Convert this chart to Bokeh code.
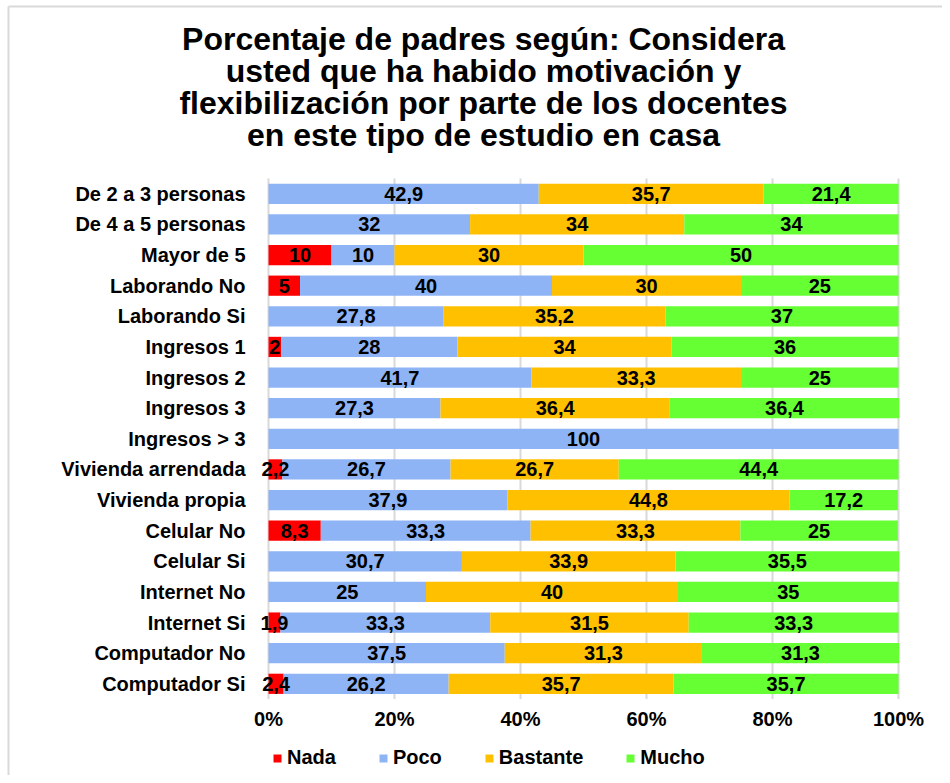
from bokeh.plotting import figure
from bokeh.models import ColumnDataSource, Legend, LegendItem, Range1d
from bokeh.core.properties import value
from bokeh.embed import file_html
from bokeh.resources import INLINE

categories = ["De 2 a 3 personas", "De 4 a 5 personas", "Mayor de 5", "Laborando No",
              "Laborando Si", "Ingresos 1", "Ingresos 2", "Ingresos 3", "Ingresos > 3",
              "Vivienda arrendada", "Vivienda propia", "Celular No", "Celular Si",
              "Internet No", "Internet Si", "Computador No", "Computador Si"]
nada     = [0, 0, 10, 5, 0, 2, 0, 0, 0, 2.2, 0, 8.3, 0, 0, 1.9, 0, 2.4]
poco     = [42.9, 32, 10, 40, 27.8, 28, 41.7, 27.3, 100, 26.7, 37.9, 33.3, 30.7, 25, 33.3, 37.5, 26.2]
bastante = [35.7, 34, 30, 30, 35.2, 34, 33.3, 36.4, 0, 26.7, 44.8, 33.3, 33.9, 40, 31.5, 31.3, 35.7]
mucho    = [21.4, 34, 50, 25, 37, 36, 25, 36.4, 0, 44.4, 17.2, 25, 35.5, 35, 33.3, 31.3, 35.7]
series_names = ["Nada", "Poco", "Bastante", "Mucho"]
colors = ["#FF0000", "#8EB4F5", "#FFC000", "#66FF33"]
x_ticks = [0, 20, 40, 60, 80, 100]
x_tick_labels = ["0%", "20%", "40%", "60%", "80%", "100%"]

title_lines = ["Porcentaje de padres según: Considera",
               "usted que ha habido motivación y",
               "flexibilización por parte de los docentes",
               "en este tipo de estudio en casa"]

FONT = "Liberation Sans"
N = len(categories)
W, H = 942, 775
PX_PER_PCT = 6.3          # horizontal scale of the 0-100 % axis
ROW_PX = 30.625           # vertical pitch of one category row
X0_PX, ROW0_PX = 268, 193.3

# ranges: the frame covers the whole figure so that title, axis labels and legend can
# be drawn as text glyphs through the same scales
x_range = Range1d(-X0_PX / PX_PER_PCT, (W - X0_PX) / PX_PER_PCT)
y_range = Range1d((H - ROW0_PX) / ROW_PX, -ROW0_PX / ROW_PX)

p = figure(width=W, height=H, output_backend="svg", toolbar_location=None,
           x_range=x_range, y_range=y_range, x_axis_location=None, y_axis_location=None,
           min_border_left=0, min_border_right=0, min_border_top=0, min_border_bottom=0)
p.grid.visible = False
p.outline_line_color = None

rows = list(range(N))
src = ColumnDataSource(dict(row=rows, Nada=nada, Poco=poco, Bastante=bastante, Mucho=mucho))

# chart border (left and top edges visible)
p.segment(x0=[-260 / PX_PER_PCT, -260 / PX_PER_PCT], y0=[-187.3 / ROW_PX, -187.3 / ROW_PX],
          x1=[-260 / PX_PER_PCT, (W - X0_PX) / PX_PER_PCT], y1=[(H - ROW0_PX) / ROW_PX, -187.3 / ROW_PX],
          line_color="#D9D9D9", line_width=2)

# vertical grid lines over the plot area only
p.segment(x0=x_ticks, y0=[-0.5] * len(x_ticks), x1=x_ticks, y1=[N - 0.5] * len(x_ticks),
          line_color="#D9D9D9", line_width=2)

renderers = p.hbar_stack(series_names, y="row", height=0.66, color=colors, source=src,
                         line_color=None)

# data labels centred in each segment
lab_x, lab_y, lab_t = [], [], []
for i in rows:
    left = 0
    for s in (nada, poco, bastante, mucho):
        v = s[i]
        if v > 0:
            lab_x.append(left + v / 2)
            lab_y.append(i)
            lab_t.append(("%g" % v).replace(".", ","))
        left += v
p.text(x=lab_x, y=lab_y, text=lab_t, text_align="center", text_baseline="middle",
       text_font=value(FONT), text_font_size=value("20px"), text_font_style="bold",
       text_color="black")

# category (y axis) labels
p.text(x=[-23 / PX_PER_PCT] * N, y=rows, text=categories, text_align="right",
       text_baseline="middle", text_font=value(FONT), text_font_size=value("20px"),
       text_font_style="bold", text_color="black")

# x tick labels
p.text(x=x_ticks, y=[(718 - ROW0_PX) / ROW_PX] * len(x_ticks), text=x_tick_labels,
       text_align="center", text_baseline="middle", text_font=value(FONT),
       text_font_size=value("20px"), text_font_style="bold", text_color="black")

# title, 4 centred lines
title_y = [(38 + 32 * k - ROW0_PX) / ROW_PX for k in range(len(title_lines))]
p.text(x=[(483 - X0_PX) / PX_PER_PCT] * len(title_lines), y=title_y, text=title_lines,
       text_align="center", text_baseline="middle", text_font=value(FONT),
       text_font_size=value("32px"), text_font_style="bold", text_color="black")

legend = Legend(items=[LegendItem(label=n, renderers=[r]) for n, r in zip(series_names, renderers)],
                orientation="horizontal", location=(272, 6),
                label_text_font=FONT, label_text_font_size="20px", label_text_font_style="bold",
                label_text_color="black",
                glyph_width=10, glyph_height=10, spacing=42, label_standoff=5,
                border_line_color=None, background_fill_alpha=0, padding=0, margin=0)
p.add_layout(legend)

open("out.html", "w").write(file_html(p, INLINE))
